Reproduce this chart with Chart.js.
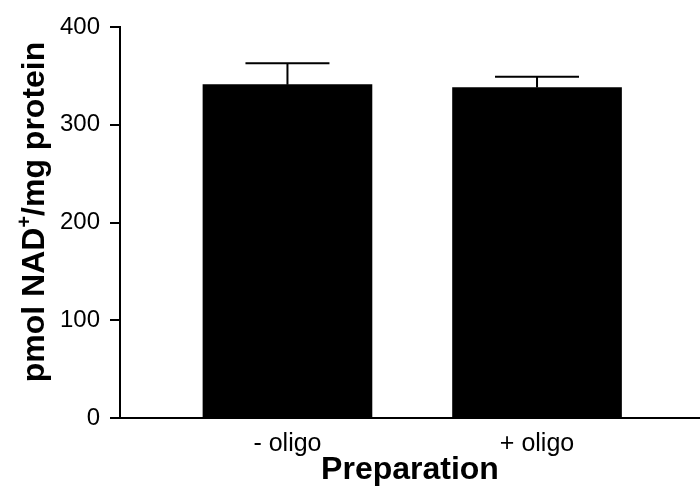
<!DOCTYPE html>
<html>
<head>
<meta charset="utf-8">
<script src="https://cdn.jsdelivr.net/npm/chart.js@4"></script>
<style>
  html, body { margin: 0; padding: 0; background: #fff; }
  #wrap { width: 700px; height: 495px; }
</style>
</head>
<body>
<div id="wrap"><canvas id="c" width="700" height="495"></canvas></div>
<script>
const categories = ['- oligo', '+ oligo'];
const values = [341, 338];
const errors = [22, 11];
const yTicks = [0, 100, 200, 300, 400];
const xTitle = 'Preparation';
const yTitleParts = ['pmol NAD', '+', '/mg protein'];

const FONT = "'Liberation Sans', Arial, Helvetica, sans-serif";

const errorBars = {
  id: 'errorBars',
  afterDatasetsDraw(chart) {
    const ctx = chart.ctx;
    const xs = chart.scales.x, ys = chart.scales.y;
    ctx.save();
    ctx.strokeStyle = '#000';
    ctx.lineWidth = 2;
    values.forEach((v, i) => {
      const x = xs.getPixelForValue(i + 1);
      const y0 = ys.getPixelForValue(v);
      const y1 = ys.getPixelForValue(v + errors[i]);
      ctx.beginPath();
      ctx.moveTo(x, y0);
      ctx.lineTo(x, y1);
      ctx.moveTo(x - 42, y1);
      ctx.lineTo(x + 42, y1);
      ctx.stroke();
    });
    ctx.restore();
  }
};

const yTitlePlugin = {
  id: 'yTitlePlugin',
  afterDraw(chart) {
    const ctx = chart.ctx;
    const big = "bold 32px " + FONT;
    const small = "bold 20px " + FONT;
    ctx.save();
    ctx.fillStyle = '#000';
    ctx.translate(44, 212);
    ctx.rotate(-Math.PI / 2);
    ctx.textBaseline = 'alphabetic';
    ctx.textAlign = 'left';
    ctx.font = big;
    const w0 = ctx.measureText(yTitleParts[0]).width;
    const w2 = ctx.measureText(yTitleParts[2]).width;
    ctx.font = small;
    const w1 = ctx.measureText(yTitleParts[1]).width;
    let x = -(w0 + w1 + w2) / 2;
    ctx.font = big;
    ctx.fillText(yTitleParts[0], x, 0);
    x += w0;
    ctx.font = small;
    ctx.fillText(yTitleParts[1], x, -13);
    x += w1;
    ctx.font = big;
    ctx.fillText(yTitleParts[2], x, 0);
    ctx.restore();
  }
};

new Chart(document.getElementById('c'), {
  type: 'bar',
  data: {
    datasets: [{
      data: values.map((v, i) => ({ x: i + 1, y: v })),
      backgroundColor: '#000',
      borderWidth: 0,
      barThickness: 169
    }]
  },
  options: {
    responsive: false,
    animation: false,
    events: [],
    layout: { padding: { top: 27, right: 0, left: 0, bottom: 0 } },
    plugins: { legend: { display: false }, tooltip: { enabled: false } },
    scales: {
      x: {
        type: 'linear',
        offset: false,
        min: 0.329,
        max: 2.653,
        afterBuildTicks(scale) { scale.ticks = categories.map((c, i) => ({ value: i + 1 })); },
        afterFit(scale) { scale.height = 77; },
        grid: { display: false, offset: false },
        border: { display: true, color: '#000', width: 2 },
        ticks: {
          color: '#000',
          font: { family: FONT, size: 25 },
          padding: 3,
          maxRotation: 0,
          autoSkip: false,
          callback: (v) => categories[v - 1]
        },
        title: {
          display: true,
          text: xTitle,
          color: '#000',
          font: { family: FONT, size: 32, weight: 'bold' },
          padding: { top: 0, bottom: 6 }
        }
      },
      y: {
        min: 0,
        max: 400,
        afterBuildTicks(scale) { scale.ticks = yTicks.map(v => ({ value: v })); },
        afterFit(scale) { scale.width = 120; },
        grid: { drawOnChartArea: false, drawTicks: true, tickLength: 10, color: '#000', lineWidth: 2 },
        border: { display: true, color: '#000', width: 2 },
        ticks: {
          color: '#000',
          font: { family: FONT, size: 24 },
          padding: 10
        },
        title: { display: false }
      }
    }
  },
  plugins: [errorBars, yTitlePlugin]
});
</script>
</body>
</html>
